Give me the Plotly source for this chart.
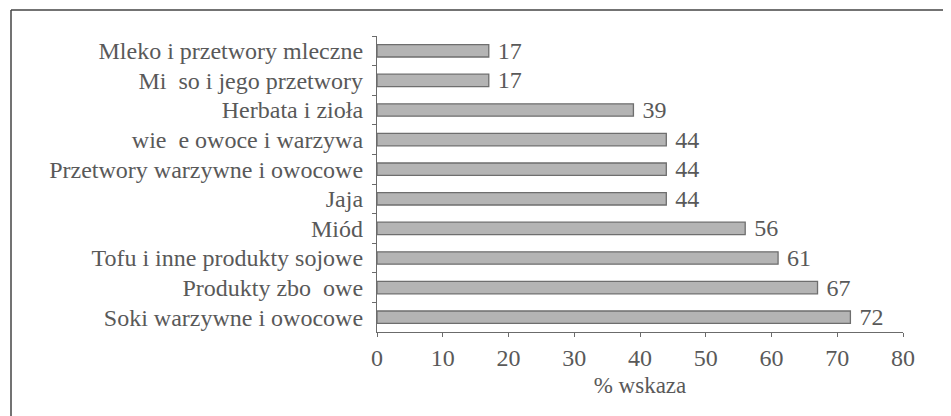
import plotly.graph_objects as go

# kategorie od gory do dolu, tak jak na wykresie
kategorie = [
    "Mleko i przetwory mleczne",
    "Mi\u00a0\u00a0so i jego przetwory",
    "Herbata i zioła",
    "wie\u00a0\u00a0e owoce i warzywa",
    "Przetwory warzywne i owocowe",
    "Jaja",
    "Miód",
    "Tofu i inne produkty sojowe",
    "Produkty zbo\u00a0\u00a0owe",
    "Soki warzywne i owocowe",
]
wskazania = [17, 17, 39, 44, 44, 44, 56, 61, 67, 72]
x_ticks = [0, 10, 20, 30, 40, 50, 60, 70, 80]

FONT = "Liberation Serif"
TXT = "#595959"
AXIS = "#6b6b6b"

# strona ma 8px marginesu, wiec figura jest o 8px mniejsza
W, H = 943, 408
L, T = 369, 28
PW, PH = 526, 296

fig = go.Figure(
    go.Bar(
        x=wskazania,
        y=kategorie,
        orientation="h",
        marker=dict(color="#b4b4b4", line=dict(color="#6e6e6e", width=1.3)),
        texttemplate="\u00a0%{x}",
        textposition="outside",
        constraintext="none",
        textfont=dict(family=FONT, size=24, color=TXT),
        outsidetextfont=dict(family=FONT, size=24, color=TXT),
        cliponaxis=False,
        width=0.42,
    )
)

fig.update_layout(
    width=W,
    height=H,
    margin=dict(l=L, r=W - L - PW, t=T, b=H - T - PH, pad=0),
    paper_bgcolor="white",
    plot_bgcolor="rgba(0,0,0,0)",
    showlegend=False,
    font=dict(family=FONT, size=22, color=TXT),
)

fig.update_xaxes(
    range=[0, 80],
    tickvals=x_ticks,
    ticks="outside",
    ticklen=4,
    tickcolor=AXIS,
    showline=True,
    linecolor=AXIS,
    linewidth=1.3,
    showgrid=False,
    zeroline=False,
    tickfont=dict(family=FONT, size=24, color=TXT),
    title=dict(text="% wskaza", font=dict(family=FONT, size=23, color=TXT), standoff=6),
)

fig.update_yaxes(
    autorange="reversed",
    ticks="outside",
    tickson="boundaries",
    ticklen=4,
    tickcolor=AXIS,
    showline=True,
    linecolor=AXIS,
    linewidth=1.3,
    showgrid=False,
    tickfont=dict(family=FONT, size=24, color=TXT),
    ticklabelstandoff=8,
)

# ramka wokol rysunku (gora i lewa krawedz)
ytop = 1 + (T - 2) / PH
xleft = -(L - 3) / PW
fig.add_shape(type="line", xref="paper", yref="paper", x0=xleft, x1=1.2,
              y0=ytop, y1=ytop, line=dict(color="#444444", width=1.5))
fig.add_shape(type="line", xref="paper", yref="paper", x0=xleft, x1=xleft,
              y0=-0.4, y1=ytop, line=dict(color="#444444", width=1.5))

fig.write_html("out.html")
